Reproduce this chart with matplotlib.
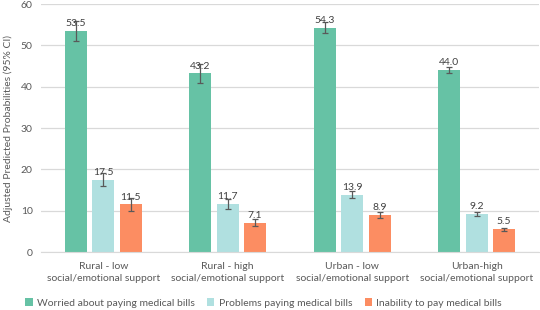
import numpy as np
import matplotlib.pyplot as plt

plt.rcParams['font.family'] = ['Lato', 'DejaVu Sans']

categories = ['Rural - low\nsocial/emotional support',
              'Rural - high\nsocial/emotional support',
              'Urban - low\nsocial/emotional support',
              'Urban-high\nsocial/emotional support']
series = ['Worried about paying medical bills',
          'Problems paying medical bills',
          'Inability to pay medical bills']
worried = [53.5, 43.2, 54.3, 44.0]
problems = [17.5, 11.7, 13.9, 9.2]
inability = [11.5, 7.1, 8.9, 5.5]
# half-width of the 95% CI
worried_err = [2.4, 2.2, 1.35, 0.8]
problems_err = [1.6, 1.2, 0.75, 0.5]
inability_err = [1.5, 0.8, 0.75, 0.4]

colors = ['#66C2A5', '#B0E0E0', '#FC8D62']
text_col = '#595959'
fs = 7.5

fig = plt.figure(figsize=(5.4, 3.1), dpi=100)
ax = fig.add_axes([0.076, 0.187, 0.922, 0.8])

x = np.arange(len(categories))
step = 0.22
width = 0.176
data = [worried, problems, inability]
errs = [worried_err, problems_err, inability_err]
for i, (vals, err, c, name) in enumerate(zip(data, errs, colors, series)):
    pos = x + (i - 1) * step
    ax.bar(pos, vals, width, color=c, label=name, zorder=2)
    ax.errorbar(pos, vals, yerr=err, fmt='none', ecolor=text_col,
                elinewidth=0.9, capsize=2.5, capthick=0.9, zorder=3)
    for p, v in zip(pos, vals):
        ax.text(p, v + 0.7, f'{v:.1f}', ha='center', va='bottom',
                fontsize=fs, color='#404040', zorder=4)

ax.set_xlim(-0.5, 3.5)
ax.set_ylim(0, 60)
ax.set_yticks(range(0, 61, 10))
ax.set_xticks(x)
ax.set_xticklabels(categories, linespacing=1.4)
ax.yaxis.grid(True, color='#D9D9D9', linewidth=0.9, zorder=0)
ax.set_axisbelow(True)
for s in ['top', 'right', 'left']:
    ax.spines[s].set_visible(False)
ax.spines['bottom'].set_color('#D9D9D9')
ax.tick_params(axis='both', length=0, labelsize=fs, colors=text_col, pad=7)
ax.tick_params(axis='y', pad=6)
ax.set_ylabel('Adjusted Predicted Probabilities (95% CI)', fontsize=fs,
              color=text_col)
ax.yaxis.set_label_coords(-0.056, 0.5)

fig.legend(loc='center', bbox_to_anchor=(0.488, 0.023), ncol=3, frameon=False,
           fontsize=fs, labelcolor=text_col, handlelength=0.7, handleheight=0.7,
           handletextpad=0.4, columnspacing=1.2)

fig.savefig('out.png', dpi=100)
